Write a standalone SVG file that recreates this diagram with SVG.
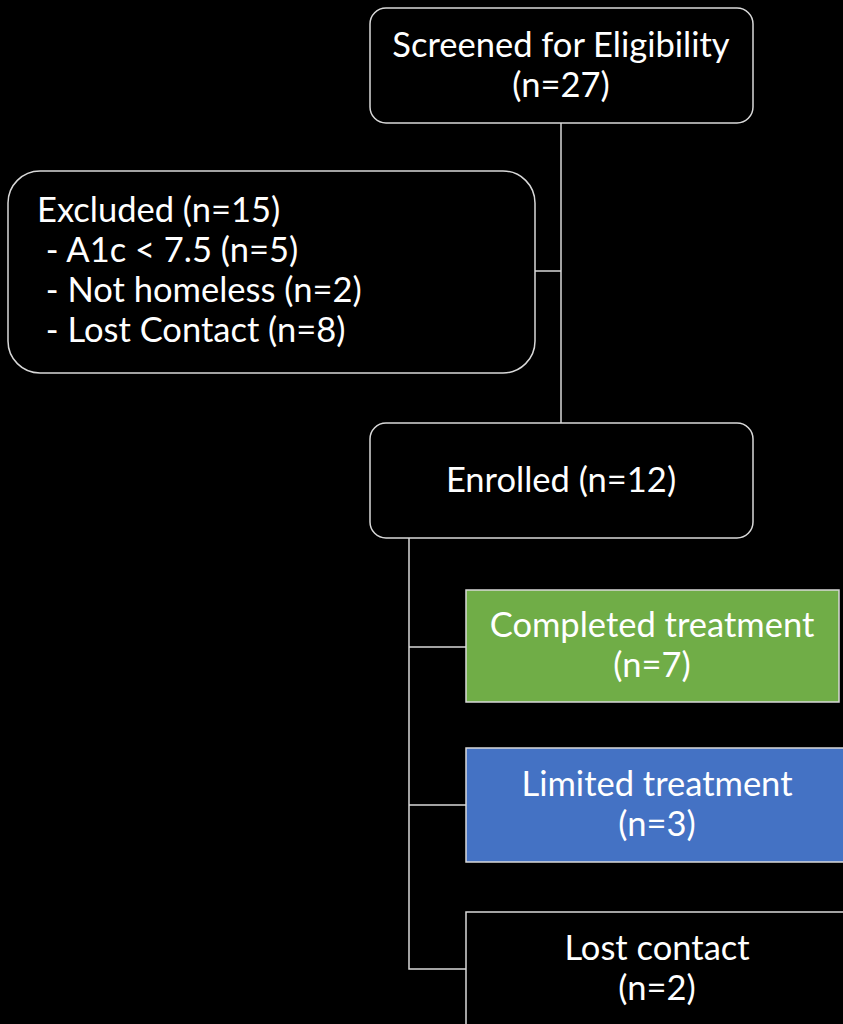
<svg xmlns="http://www.w3.org/2000/svg" width="843" height="1024" viewBox="0 0 843 1024">
<style>
.box{stroke:#d9d9d9;stroke-width:1.5}
.t{font-family:Lato,"Open Sans","Liberation Sans",sans-serif;font-size:34.5px;fill:#ffffff}
.c{text-anchor:middle}
.ln{stroke:#d9d9d9;stroke-width:1.5;fill:none}
</style>
<rect x="0" y="0" width="843" height="1024" fill="#000000"/>
<g id="connectors">
<path class="ln" d="M561,123 V423"/>
<path class="ln" d="M535,271 H561"/>
<path class="ln" d="M409,538 V969 H466"/>
<path class="ln" d="M409,647 H466"/>
<path class="ln" d="M409,805 H466"/>
</g>
<g id="screened">
<rect class="box" x="370" y="8" width="383" height="115" rx="16" fill="#000000"/>
<text class="t c" x="561" y="57">Screened for Eligibility</text>
<text class="t c" x="561" y="97">(n=27)</text>
</g>
<g id="excluded">
<rect class="box" x="8" y="171" width="527" height="202" rx="32" fill="#000000"/>
<text class="t" x="37" y="222">Excluded (n=15)</text>
<text class="t" x="37" y="262" xml:space="preserve"> - A1c &lt; 7.5 (n=5)</text>
<text class="t" x="37" y="302" xml:space="preserve"> - Not homeless (n=2)</text>
<text class="t" x="37" y="342" xml:space="preserve"> - Lost Contact (n=8)</text>
</g>
<g id="enrolled">
<rect class="box" x="370" y="423" width="383" height="115" rx="16" fill="#000000"/>
<text class="t c" x="561" y="492">Enrolled (n=12)</text>
</g>
<g id="completed">
<rect class="box" x="466" y="590" width="373" height="112" fill="#70ad47"/>
<text class="t c" x="652" y="637">Completed treatment</text>
<text class="t c" x="652" y="677">(n=7)</text>
</g>
<g id="limited">
<rect class="box" x="466" y="748" width="380" height="114" fill="#4472c4"/>
<text class="t c" x="657" y="796">Limited treatment</text>
<text class="t c" x="657" y="836">(n=3)</text>
</g>
<g id="lost">
<rect class="box" x="466" y="912" width="380" height="120" fill="#000000"/>
<text class="t c" x="657" y="960">Lost contact</text>
<text class="t c" x="657" y="1000">(n=2)</text>
</g>
</svg>
